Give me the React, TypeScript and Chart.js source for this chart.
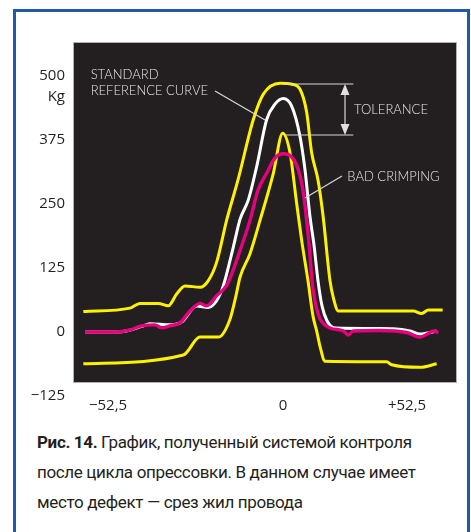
import { useEffect, useRef } from "react";
import { Chart, registerables } from "chart.js";

Chart.register(...registerables);

// ---- data (x: time units, y: Kg) ----
const UPPER_X = [-59.9, -45.9, -42.9, -37.4, -34.4, -31.9, -29.4, -24.9, -22.4, -19.9, -16.9, -13.5, -8.9, -5.9, -0.9, 2.7, 5.1, 7.1, 8.6, 10.5, 12, 14.1, 15.1, 16.6, 39.1, 41.6, 43.6, 47.9];
const UPPER_Y = [40, 46.7, 55.7, 55.7, 51.2, 74.2, 90, 87.2, 100.4, 136.4, 218.5, 297, 415, 464.6, 486, 484, 474, 429, 350, 297, 228, 100, 67, 41, 41, 36, 43, 43];

const REF_X = [-59.4, -49.9, -46.4, -42.4, -39.9, -33.9, -30.3, -25.9, -22.5, -18.4, -14.9, -12.9, -10.4, -7.9, -4.9, -2.4, 0.1, 2.6, 5.1, 6.6, 8.1, 9.3, 10.5, 11.7, 13.2, 15.6, 29.1, 33, 38.1, 41.1, 46.1];
const REF_Y = [0, 0, 3, 11, 16, 14, 20, 51, 48, 81, 166, 220, 258, 323, 415, 445, 456, 441, 382, 317, 225, 170, 100, 51, 22, 8, 7, 6.5, 2, -4, 2];

const BAD_X = [-59.4, -49.9, -46.4, -42.4, -38.4, -36.4, -33.9, -30.9, -27.9, -24.9, -22.9, -19.9, -16.9, -15, -12.9, -9.9, -7.5, -4.9, -2.4, 0.1, 2.7, 4.6, 6, 7.1, 8, 8.7, 9.9, 11.1, 14.1, 18.1, 19.6, 21.1, 29.1, 37.1, 41.1, 43.6, 45.1, 46.6];
const BAD_Y = [0, 0, 3, 12, 14, 8, 12, 18, 41, 56, 51, 71, 91, 120, 159, 218, 277, 310, 340, 348, 341, 317, 277, 218, 159, 100, 51, 26, 8, 2, -6, 2, 3, -1, -10, -3, 2, -1];

const LOWER_X = [-59.9, -29.9, -24.9, -19.4, -15.9, -14.2, -12.9, -9.9, -6.9, -2.9, -0.1, 2.1, 4.1, 5.6, 7.5, 9, 10.1, 11.1, 12.6, 31.1, 32.6, 41.1, 46.1];
const LOWER_Y = [-62, -45, -10, -10, 25, 68, 107, 153, 218, 310, 388, 350, 251, 179, 100, 31, 2, -28, -57, -58, -64, -69, -62];

const Y_TICKS = [500, 375, 250, 125, 0, -125];
const Y_TICK_LABELS = ["500", "375", "250", "125", "0", "\u2212125"];
const Y_UNIT = "Kg";
const X_TICKS = [-52.5, 0, 37.2];
const X_TICK_LABELS = ["\u221252,5", "0", "+52,5"];

const toPts = (xs: number[], ys: number[]) => xs.map((x, i) => ({ x, y: ys[i] }));

const YELLOW = "#fff200";
const WHITE = "#ffffff";
const MAGENTA = "#e6007e";
const BG = "#231f20";
const LABEL = "#e4e4e4";
const TEXT = "#231f20";

const FONT_AXIS = "15px 'Open Sans', sans-serif";
const FONT_NOTE = "300 13px Lato, 'Open Sans', sans-serif";

const decoPlugin = {
  id: "deco",
  beforeDatasetsDraw(chart: any) {
    const { ctx, chartArea: a } = chart;
    ctx.save();
    ctx.fillStyle = BG;
    ctx.fillRect(a.left, a.top, a.right - a.left, a.bottom - a.top);
    ctx.strokeStyle = "#b0b0b0";
    ctx.lineWidth = 1;
    ctx.strokeRect(a.left + 0.5, a.top + 0.5, a.right - a.left - 1, a.bottom - a.top - 1);
    ctx.restore();
  },
  afterDatasetsDraw(chart: any) {
    const { ctx } = chart;
    const xs = chart.scales.x;
    const ys = chart.scales.y;
    const X = (v: number) => xs.getPixelForValue(v);
    const Y = (v: number) => ys.getPixelForValue(v);
    ctx.save();
    ctx.strokeStyle = "#d8d8d8";
    ctx.lineWidth = 1.2;
    const line = (x1: number, y1: number, x2: number, y2: number) => {
      ctx.beginPath();
      ctx.moveTo(X(x1), Y(y1));
      ctx.lineTo(X(x2), Y(y2));
      ctx.stroke();
    };
    line(-20.4, 470.7, -5.4, 414);
    line(17.7, 304.7, 6.6, 261.7);
    line(0.1, 484.4, 21.1, 484.4);
    line(0.6, 384.8, 21.1, 384.8);
    const ax = X(18.6);
    const top = Y(484.4);
    const bot = Y(384.8);
    ctx.beginPath();
    ctx.moveTo(ax, top + 8);
    ctx.lineTo(ax, bot - 8);
    ctx.stroke();
    ctx.fillStyle = "#e0e0e0";
    ctx.beginPath();
    ctx.moveTo(ax, top);
    ctx.lineTo(ax - 4.5, top + 11);
    ctx.lineTo(ax + 4.5, top + 11);
    ctx.closePath();
    ctx.fill();
    ctx.beginPath();
    ctx.moveTo(ax, bot);
    ctx.lineTo(ax - 4.5, bot - 11);
    ctx.lineTo(ax + 4.5, bot - 11);
    ctx.closePath();
    ctx.fill();
    ctx.fillStyle = LABEL;
    ctx.font = FONT_NOTE;
    ctx.textAlign = "left";
    ctx.textBaseline = "alphabetic";
    ctx.fillText("STANDARD", X(-57.7), Y(493.6));
    ctx.fillText("REFERENCE CURVE", X(-57.7), Y(462.9));
    ctx.fillText("TOLERANCE", X(21.3), Y(425));
    ctx.fillText("BAD CRIMPING", X(19.3), Y(295.5));
    ctx.restore();
  },
  afterDraw(chart: any) {
    const { ctx, chartArea: a } = chart;
    const xs = chart.scales.x;
    const ys = chart.scales.y;
    ctx.save();
    ctx.fillStyle = TEXT;
    ctx.font = FONT_AXIS;
    ctx.textAlign = "right";
    ctx.textBaseline = "middle";
    Y_TICKS.forEach((v, i) => {
      ctx.fillText(Y_TICK_LABELS[i], a.left - 8, ys.getPixelForValue(v));
    });
    ctx.fillText(Y_UNIT, a.left - 8, ys.getPixelForValue(Y_TICKS[0]) + 21);
    ctx.textAlign = "center";
    X_TICKS.forEach((v, i) => {
      ctx.fillText(X_TICK_LABELS[i], xs.getPixelForValue(v), a.bottom + 23);
    });
    ctx.restore();
  },
};

export default function App() {
  const ref = useRef<HTMLCanvasElement>(null);
  useEffect(() => {
    if (!ref.current) return;
    const mk = (data: any[], color: string, w: number) => ({
      data,
      borderColor: color,
      borderWidth: w,
      pointRadius: 0,
      fill: false,
      cubicInterpolationMode: "monotone" as const,
    });
    // Chart.js paints the first dataset on top, so the magenta curve comes first
    const chart = new Chart(ref.current, {
      type: "line",
      data: {
        datasets: [
          mk(toPts(BAD_X, BAD_Y), MAGENTA, 3.4),
          mk(toPts(REF_X, REF_Y), WHITE, 3),
          mk(toPts(UPPER_X, UPPER_Y), YELLOW, 3),
          mk(toPts(LOWER_X, LOWER_Y), YELLOW, 3),
        ],
      },
      options: {
        animation: false,
        responsive: false,
        devicePixelRatio: 1,
        layout: { padding: { left: 73, right: 14, top: 42, bottom: 42 } },
        plugins: { legend: { display: false }, tooltip: { enabled: false }, title: { display: false } },
        scales: {
          x: { type: "linear", min: -63, max: 52.2, display: false },
          y: { type: "linear", min: -99.6, max: 566.4, display: false },
        },
      },
      plugins: [decoPlugin],
    });
    return () => chart.destroy();
  }, []);

  return (
    <div style={{ position: "absolute", left: 0, top: 0, width: 471, height: 532, overflow: "hidden", background: "#fff" }}>
      <div
        style={{
          position: "absolute",
          left: 13,
          top: 9,
          width: 457,
          height: 600,
          boxSizing: "border-box",
          border: "3px solid #1f5aa8",
          background: "#fff",
        }}
      />
      <canvas ref={ref} width={471} height={425} style={{ position: "absolute", left: 0, top: 0, width: 471, height: 425 }} />
      <div
        style={{
          position: "absolute",
          left: 37,
          top: 427,
          width: 430,
          fontFamily: "Roboto, 'Open Sans', sans-serif",
          fontSize: 17,
          letterSpacing: "-0.35px",
          lineHeight: "30px",
          color: TEXT,
          whiteSpace: "nowrap",
        }}
      >
        <b>Рис. 14.</b> График, полученный системой контроля
        <br />
        после цикла опрессовки. В данном случае имеет
        <br />
        место дефект — срез жил провода
      </div>
    </div>
  );
}
